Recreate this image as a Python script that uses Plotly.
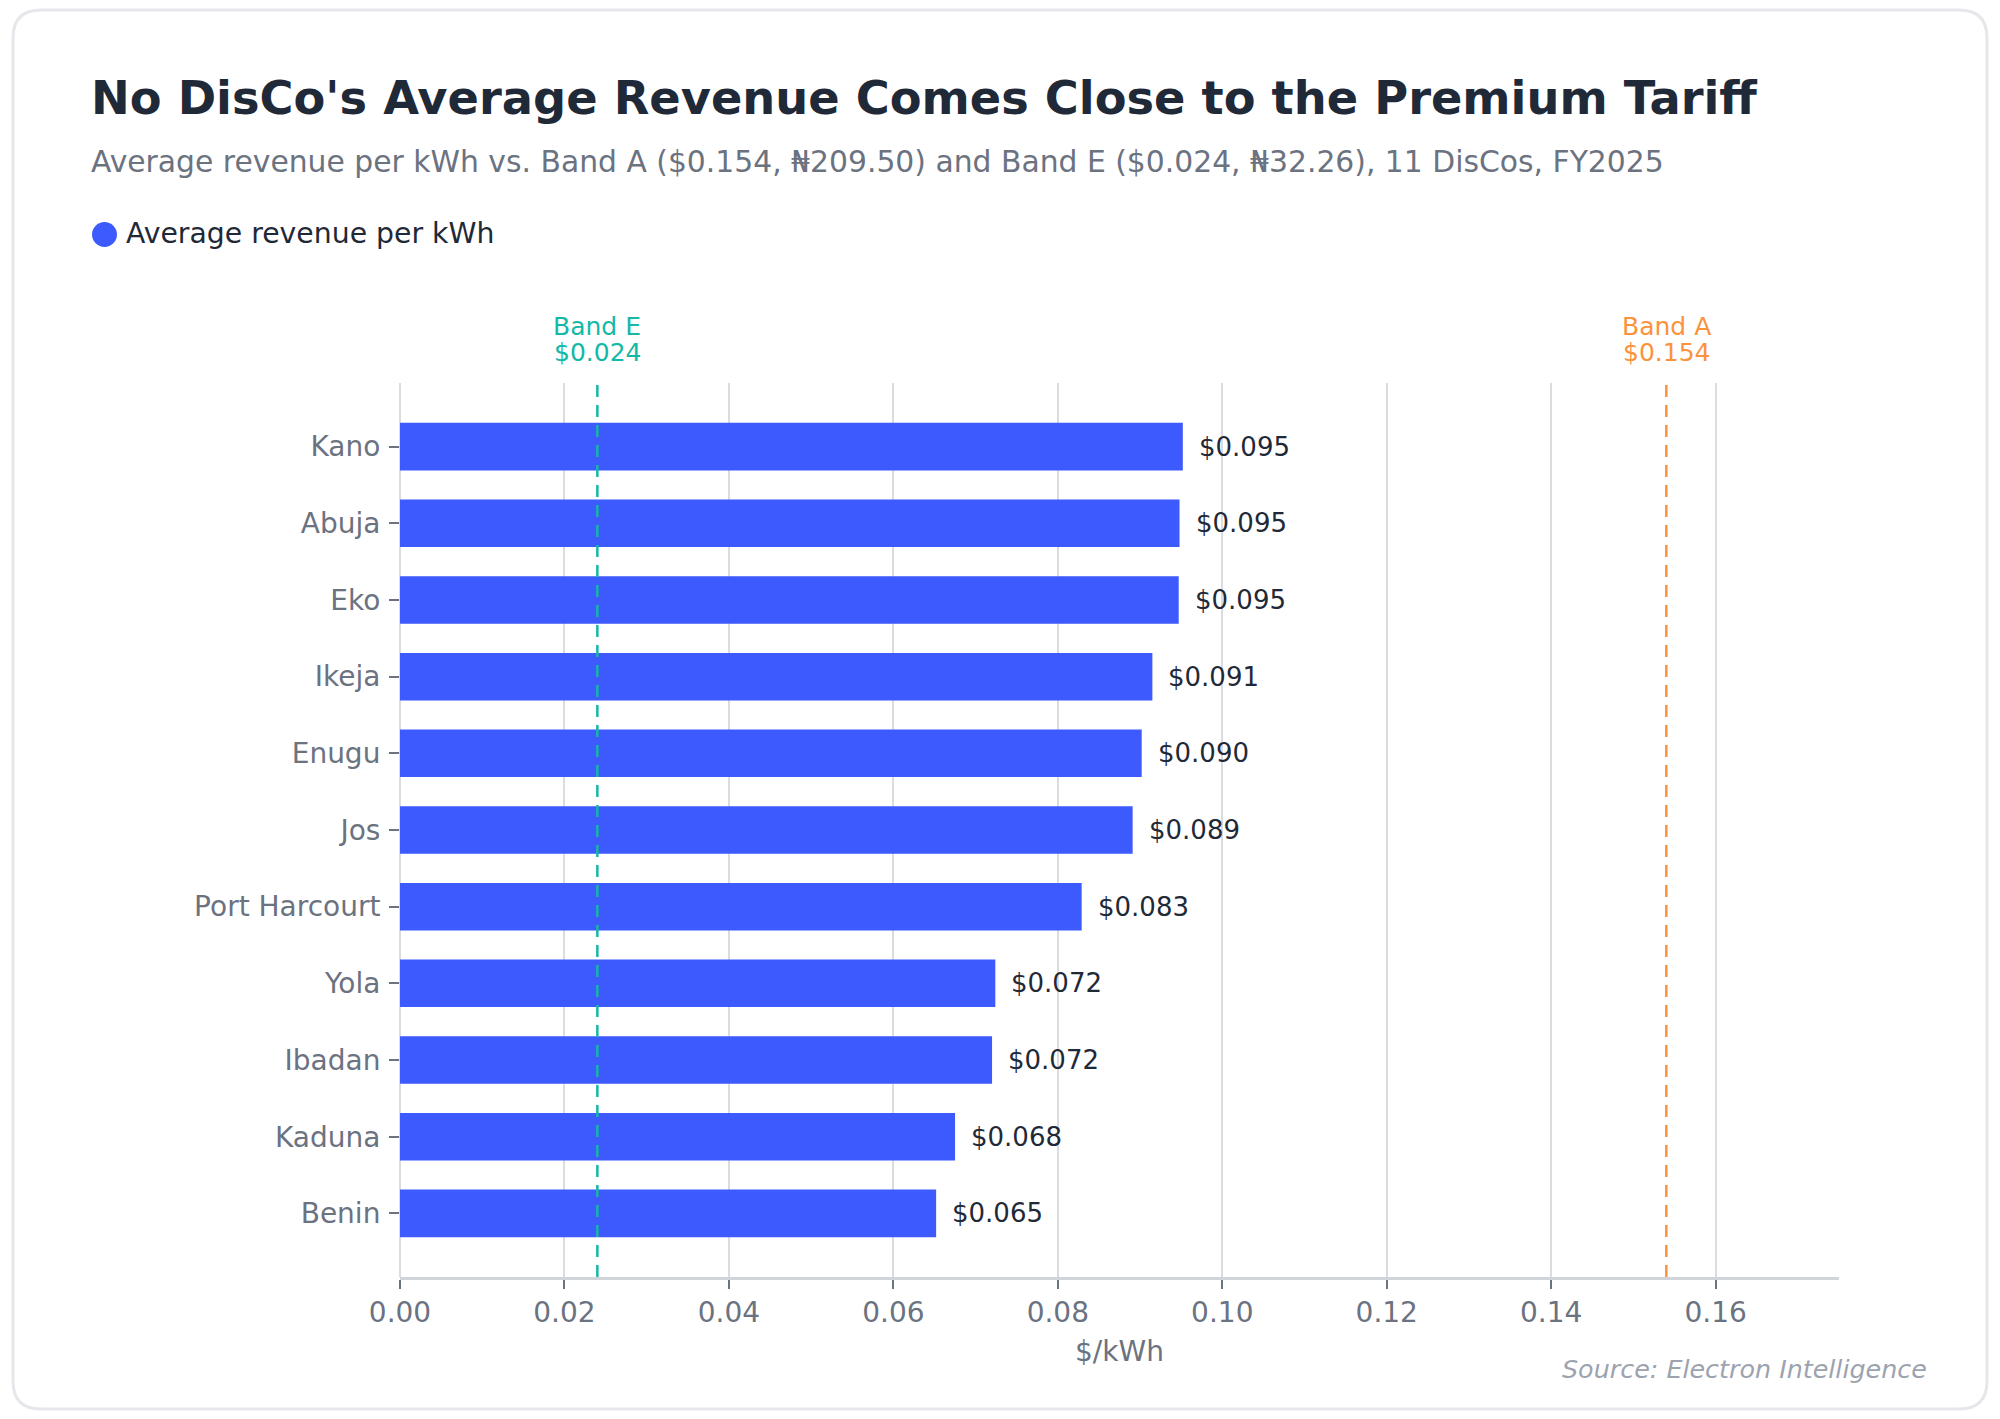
import plotly.graph_objects as go

# average revenue per kWh by DisCo, FY2025 (USD)
discos = ["Kano", "Abuja", "Eko", "Ikeja", "Enugu", "Jos", "Port Harcourt",
          "Yola", "Ibadan", "Kaduna", "Benin"]
revenue = [0.0952, 0.0948, 0.0947, 0.0915, 0.0902, 0.0891, 0.0829,
           0.0724, 0.0720, 0.0675, 0.0652]

band_names = ["Band E", "Band A"]
band_values = [0.024, 0.154]
band_colors = ["#14b8a6", "#fb923c"]

x_ticks = [0.0, 0.02, 0.04, 0.06, 0.08, 0.10, 0.12, 0.14, 0.16]

# page body has an 8px margin, so the figure is a bit smaller than the window
OFF = 8
W, H = 2000 - 2 * OFF, 1419 - 2 * OFF
# plot area in window pixels: x 400..1839, y 383..1277
L, R, T, B = 400 - OFF, 2000 - 1839 - OFF, 383 - OFF, 1419 - 1277 - OFF
FONT = "DejaVu Sans"
BAR = "#3d5afe"
GRID = "#d9dce1"


def px(x):
    # window pixel -> paper x
    return (x - OFF - L) / (W - L - R)


def py(y):
    # window pixel (from top) -> paper y
    return (H - B - (y - OFF)) / (H - T - B)


fig = go.Figure()

fig.add_trace(go.Bar(
    x=revenue, y=discos, orientation="h",
    marker=dict(color=BAR, line=dict(width=0)),
    width=0.62, showlegend=False,
    hovertemplate="%{y}: $%{x:.3f}<extra></extra>",
))
# legend entry; its round swatch is drawn as a shape below (legend caps marker size)
fig.add_trace(go.Scatter(
    x=[None], y=[None], mode="markers",
    marker=dict(color=BAR, size=16, opacity=0),
    name="Average revenue per kWh",
))

annotations = []
for d, v in zip(discos, revenue):
    annotations.append(dict(
        x=v, y=d, xref="x", yref="y", text=f"${v:.3f}",
        xanchor="left", yanchor="middle", xshift=14, showarrow=False,
        font=dict(family=FONT, size=26, color="#1f2937"),
    ))

shapes = []
for name, v, c in zip(band_names, band_values, band_colors):
    shapes.append(dict(
        type="line", xref="x", yref="paper", x0=v, x1=v, y0=0, y1=1,
        line=dict(color=c, width=2.5, dash="12px,8px"), layer="above",
    ))
    annotations.append(dict(
        x=v, y=1, xref="x", yref="paper", text=f"${v:.3f}",
        xanchor="center", yanchor="bottom", yshift=14, showarrow=False,
        font=dict(family=FONT, size=25, color=c),
    ))
    annotations.append(dict(
        x=v, y=1, xref="x", yref="paper", text=name,
        xanchor="center", yanchor="bottom", yshift=40, showarrow=False,
        font=dict(family=FONT, size=25, color=c),
    ))

# legend swatch
shapes.append(dict(type="circle", xref="paper", yref="paper",
                   xsizemode="pixel", ysizemode="pixel",
                   xanchor=px(104.5), yanchor=py(234.5),
                   x0=-12.5, x1=12.5, y0=-12.5, y1=12.5,
                   fillcolor=BAR, line=dict(width=0)))

# card outline
x0, x1, y0, y1, r = 13, 1987, 10, 1409, 28
path = (f"M {px(x0 + r)},{py(y0)} L {px(x1 - r)},{py(y0)} "
        f"Q {px(x1)},{py(y0)} {px(x1)},{py(y0 + r)} "
        f"L {px(x1)},{py(y1 - r)} Q {px(x1)},{py(y1)} {px(x1 - r)},{py(y1)} "
        f"L {px(x0 + r)},{py(y1)} Q {px(x0)},{py(y1)} {px(x0)},{py(y1 - r)} "
        f"L {px(x0)},{py(y0 + r)} Q {px(x0)},{py(y0)} {px(x0 + r)},{py(y0)} Z")
shapes.append(dict(type="path", xref="paper", yref="paper", path=path,
                   line=dict(color="#e5e7eb", width=3), layer="below"))

annotations += [
    dict(x=px(89), y=py(98), xref="paper", yref="paper",
         text="<b>No DisCo's Average Revenue Comes Close to the Premium Tariff</b>",
         xanchor="left", yanchor="middle", showarrow=False,
         font=dict(family=FONT, size=46.3, color="#1f2937")),
    dict(x=px(89), y=py(161), xref="paper", yref="paper",
         text="Average revenue per kWh vs. Band A ($0.154, ₦209.50) and Band E "
              "($0.024, ₦32.26), 11 DisCos, FY2025",
         xanchor="left", yanchor="middle", showarrow=False,
         font=dict(family=FONT, size=29.8, color="#6b7280")),
    dict(x=px(1929), y=py(1369), xref="paper", yref="paper",
         text="<i>Source: Electron Intelligence</i>",
         xanchor="right", yanchor="middle", showarrow=False,
         font=dict(family=FONT, size=25.4, color="#9ca3af")),
]

fig.update_layout(
    width=W, height=H,
    margin=dict(l=L, r=R, t=T, b=B, autoexpand=False),
    paper_bgcolor="white", plot_bgcolor="white",
    font=dict(family=FONT, color="#6b7280"),
    shapes=shapes, annotations=annotations,
    legend=dict(orientation="h", xref="container", yref="container",
                x=(86 - OFF) / W, y=1 - (232 - OFF) / H,
                xanchor="left", yanchor="middle",
                font=dict(family=FONT, size=28.3, color="#1f2937"),
                bgcolor="rgba(0,0,0,0)"),
    xaxis=dict(
        range=[0, 0.175], tickvals=x_ticks, tickformat=".2f",
        showgrid=True, gridcolor=GRID, gridwidth=2,
        zeroline=True, zerolinecolor=GRID, zerolinewidth=2,
        showline=True, linecolor="#d1d5db", linewidth=2.5,
        ticks="outside", ticklen=9, tickwidth=2, tickcolor="#6b7280",
        tickfont=dict(family=FONT, size=28, color="#6b7280"),
        title=dict(text="$/kWh", standoff=14,
                   font=dict(family=FONT, size=28, color="#6b7280")),
    ),
    yaxis=dict(
        type="category", categoryorder="array", categoryarray=discos,
        range=[len(discos) - 1 + 0.83, -0.83],
        showgrid=False, zeroline=False, showline=False,
        ticks="outside", ticklen=10, tickwidth=2, tickcolor="#6b7280",
        ticklabelstandoff=3,
        tickfont=dict(family=FONT, size=28, color="#6b7280"),
    ),
)

fig.write_html("out.html")
